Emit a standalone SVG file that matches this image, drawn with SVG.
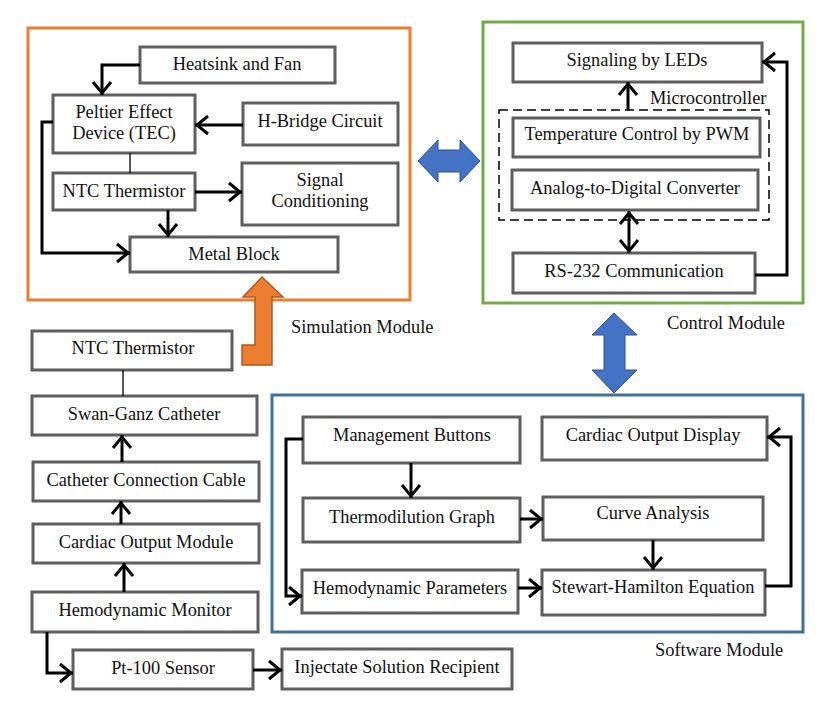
<svg xmlns="http://www.w3.org/2000/svg" width="830" height="714" viewBox="0 0 830 714" font-family="Liberation Serif, Times New Roman, DejaVu Serif, serif">
<defs>
<style>
text{font-family:"Liberation Serif","Times New Roman","DejaVu Serif",serif}
.box{fill:#fff;stroke:#5f5f5f;stroke-width:3}
.t{font-size:18.4px;fill:#111;text-anchor:middle;dominant-baseline:central}
.lbl{font-size:18.4px;fill:#111;dominant-baseline:central}
.c{fill:none;stroke:#000;stroke-width:3;stroke-linejoin:miter}
.thin{fill:none;stroke:#000;stroke-width:1.3}
.a{marker-end:url(#ah)}
.aa{marker-start:url(#ah);marker-end:url(#ah)}
</style>
<marker id="ah" markerUnits="userSpaceOnUse" viewBox="-17 -12 19 24" refX="0" refY="0" markerWidth="19" markerHeight="24" orient="auto-start-reverse">
<path d="M-13,-9 L-2,0 L-13,9" fill="none" stroke="#000" stroke-width="3"/>
</marker>
</defs>

<!-- module frames -->
<g id="simulation-module">
<rect x="28" y="28" width="382" height="272" fill="none" stroke="#ED7D31" stroke-width="3"/>
<text class="lbl" x="291" y="327">Simulation Module</text>
</g>
<g id="control-module">
<rect x="483" y="22" width="320" height="281" fill="none" stroke="#70AD47" stroke-width="3"/>
<text class="lbl" x="667" y="323">Control Module</text>
</g>
<g id="software-module">
<rect x="272" y="395" width="531" height="237" fill="none" stroke="#41719C" stroke-width="3"/>
<text class="lbl" x="655" y="650">Software Module</text>
</g>
<g id="microcontroller">
<rect x="499" y="110" width="270" height="110" fill="none" stroke="#000" stroke-width="1.5" stroke-dasharray="9,5"/>
<text class="lbl" x="650" y="98">Microcontroller</text>
</g>

<!-- big block arrows -->
<g id="block-arrows">
<polygon points="262,277 283,297 272,297 272,365 242,365 242,345 255,345 255,297 243,297" fill="#ED7D31" stroke="#AE5A21" stroke-width="1.5"/>
<polygon points="418,161 438,140 438,150 460,150 460,140 480,161 460,182 460,172 438,172 438,182" fill="#4472C4" stroke="#2F528F" stroke-width="1"/>
<polygon points="614,313 637,335 625,335 625,370 637,370 614,393 592,370 604,370 604,335 592,335" fill="#4472C4" stroke="#2F528F" stroke-width="1"/>
</g>

<!-- simulation nodes -->
<g id="heatsink"><rect class="box" x="140" y="47" width="195" height="36"/><text class="t" x="237" y="64">Heatsink and Fan</text></g>
<g id="peltier"><rect class="box" x="53" y="95" width="142" height="58"/><text class="t" x="124" y="112">Peltier Effect</text><text class="t" x="124" y="133">Device (TEC)</text></g>
<g id="hbridge"><rect class="box" x="243" y="103" width="155" height="42"/><text class="t" x="320" y="121">H-Bridge Circuit</text></g>
<g id="ntc-sim"><rect class="box" x="53" y="173" width="142" height="37"/><text class="t" x="124" y="191">NTC Thermistor</text></g>
<g id="signal"><rect class="box" x="242" y="163" width="156" height="62"/><text class="t" x="320" y="180">Signal</text><text class="t" x="320" y="201">Conditioning</text></g>
<g id="metal"><rect class="box" x="130" y="237" width="208" height="35"/><text class="t" x="234" y="254">Metal Block</text></g>

<!-- control nodes -->
<g id="leds"><rect class="box" x="513" y="43" width="249" height="39"/><text class="t" x="637" y="60">Signaling by LEDs</text></g>
<g id="pwm"><rect class="box" x="513" y="118" width="247" height="39"/><text class="t" x="637" y="134">Temperature Control by PWM</text></g>
<g id="adc"><rect class="box" x="512" y="170" width="246" height="40"/><text class="t" x="635" y="188">Analog-to-Digital Converter</text></g>
<g id="rs232"><rect class="box" x="513" y="253" width="242" height="40"/><text class="t" x="634" y="271">RS-232 Communication</text></g>

<!-- software nodes -->
<g id="mgmt"><rect class="box" x="303" y="417" width="217" height="46"/><text class="t" x="412" y="435">Management Buttons</text></g>
<g id="codisplay"><rect class="box" x="542" y="417" width="225" height="43"/><text class="t" x="653" y="435">Cardiac Output Display</text></g>
<g id="thermo"><rect class="box" x="303" y="498" width="217" height="44"/><text class="t" x="412" y="517">Thermodilution Graph</text></g>
<g id="curve"><rect class="box" x="543" y="497" width="220" height="43"/><text class="t" x="653" y="513">Curve Analysis</text></g>
<g id="hemoparams"><rect class="box" x="302" y="570" width="216" height="43"/><text class="t" x="410" y="588">Hemodynamic Parameters</text></g>
<g id="stewart"><rect class="box" x="542" y="570" width="223" height="45"/><text class="t" x="653" y="587">Stewart-Hamilton Equation</text></g>

<!-- left column nodes -->
<g id="ntc"><rect class="box" x="32" y="331" width="200" height="39"/><text class="t" x="133" y="348">NTC Thermistor</text></g>
<g id="swanganz"><rect class="box" x="32" y="396" width="225" height="39"/><text class="t" x="144" y="414">Swan-Ganz Catheter</text></g>
<g id="cable"><rect class="box" x="33" y="462" width="226" height="39"/><text class="t" x="146" y="480">Catheter Connection Cable</text></g>
<g id="comodule"><rect class="box" x="33" y="524" width="226" height="39"/><text class="t" x="146" y="542">Cardiac Output Module</text></g>
<g id="monitor"><rect class="box" x="32" y="592" width="226" height="40"/><text class="t" x="145" y="610">Hemodynamic Monitor</text></g>
<g id="pt100"><rect class="box" x="73" y="650" width="180" height="39"/><text class="t" x="163" y="668">Pt-100 Sensor</text></g>
<g id="injectate"><rect class="box" x="282" y="649" width="230" height="40"/><text class="t" x="397" y="667">Injectate Solution Recipient</text></g>

<!-- connectors -->
<g id="connectors">
<path class="c a" d="M140,65 H102 V95"/>
<path class="c a" d="M243,125 H195"/>
<path class="thin" d="M130,153 V173"/>
<path class="c a" d="M195,192 H242"/>
<path class="c a" d="M168,210 V237"/>
<path class="c a" d="M53,122 H42 V253 H130"/>

<path class="c a" d="M628,110 V82"/>
<path class="c aa" d="M629,211 V253"/>
<path class="c a" d="M755,275 H787 V62 H762"/>

<path class="c a" d="M303,439 H286 V596 H302"/>
<path class="c a" d="M411,463 V498"/>
<path class="c a" d="M520,519 H543"/>
<path class="c a" d="M653,540 V570"/>
<path class="c a" d="M518,588 H542"/>
<path class="c a" d="M765,586 H791 V437 H767"/>

<path class="thin" d="M123,370 V396"/>
<path class="c a" d="M122,462 V435"/>
<path class="c a" d="M121,524 V501"/>
<path class="c a" d="M124,592 V563"/>
<path class="c a" d="M47,632 V673 H73"/>
<path class="c a" d="M253,670 H282"/>
</g>
</svg>
